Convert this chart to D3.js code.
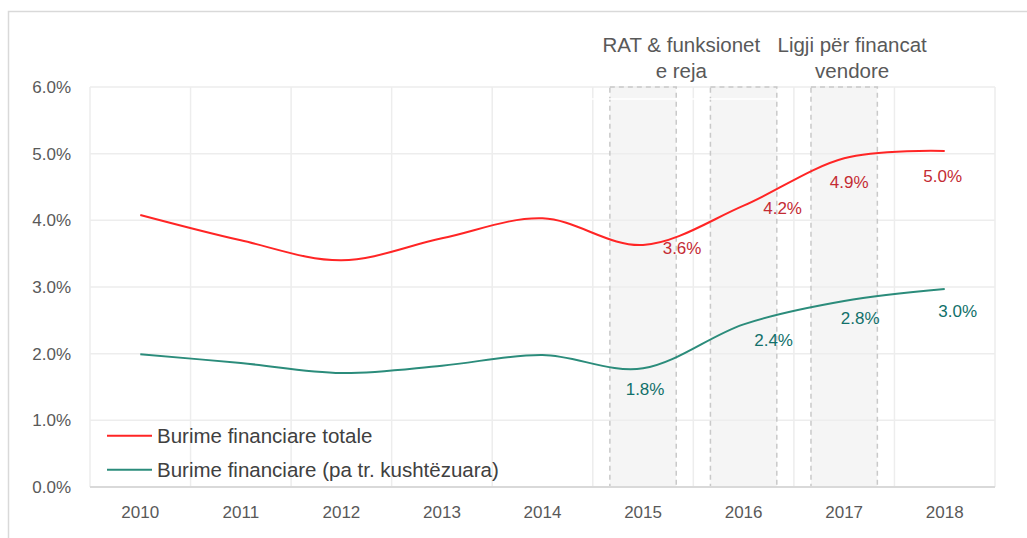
<!DOCTYPE html>
<html>
<head>
<meta charset="utf-8">
<script src="https://cdn.jsdelivr.net/npm/d3@7"></script>
<style>
  body { margin: 0; background: #fff; }
  svg { display: block; font-family: "Liberation Sans", Arial, sans-serif; }
</style>
</head>
<body>
<svg width="1027" height="538"></svg>
<script>
// --- Dados ---
const years = ['2010', '2011', '2012', '2013', '2014', '2015', '2016', '2017', '2018'];
const totale = [4.08, 3.70, 3.40, 3.73, 4.03, 3.63, 4.22, 4.93, 5.04];
const paKusht = [1.99, 1.86, 1.71, 1.82, 1.98, 1.78, 2.44, 2.79, 2.97];
const labelYears = ['2015', '2016', '2017', '2018'];
const reformYears = ['2015', '2016', '2017'];
const reformTop = 6;
const yTicks = [0, 1, 2, 3, 4, 5, 6];
const seriesNames = ['Burime financiare totale', 'Burime financiare (pa tr. kushtëzuara)'];
const annotations = [
    { lines: ['RAT & funksionet', 'e reja'], between: ['2015', '2016'] },
    { lines: ['Ligji për financat', 'vendore'], at: '2017' }
];

// deslocamento dos rótulos (px), só aparência
const labelOffsets = {
    totale: [[39, 3], [39, 3], [5, 24], [-2, 25]],
    paKusht: [[2, 21], [30, 16], [16, 17], [13, 22]]
};

const colors = { totale: '#ff2525', paKusht: '#2b8c7b', totaleLbl: '#c42b33', paKushtLbl: '#11706a' };

const svg = d3.select('svg');
const margens = { left: 90, right: 32, top: 87, bottom: 51 };
const width = +svg.attr('width');
const height = +svg.attr('height');

// moldura externa
svg.append('rect')
    .attr('x', 8.5).attr('y', 11.5)
    .attr('width', 1040).attr('height', 560)
    .attr('fill', 'none').attr('stroke', '#d9d9d9').attr('stroke-width', 1.5);

const x = d3.scaleBand()
    .domain(years)
    .range([margens.left, width - margens.right]);

const y = d3.scaleLinear()
    .domain([0, 6])
    .range([height - margens.bottom, margens.top]);

const cx = d => x(d) + x.bandwidth() / 2;

// --- Caixas das reformas ---
const boxW = x.bandwidth() * 0.66;
svg.append('g')
    .selectAll('rect')
    .data(reformYears)
    .join('rect')
    .attr('x', d => cx(d) - boxW / 2)
    .attr('y', y(reformTop))
    .attr('width', boxW)
    .attr('height', y(0) - y(reformTop))
    .attr('fill', '#f5f5f5');

// --- Grade ---
const grid = svg.append('g');
grid.selectAll('.h')
    .data(yTicks.slice(1))
    .join('line')
    .attr('x1', x.range()[0]).attr('x2', x.range()[1])
    .attr('y1', d => y(d)).attr('y2', d => y(d))
    .attr('stroke', '#ededed').attr('stroke-width', 1.5);

grid.selectAll('.v')
    .data(years.map(d => x(d)).concat([x.range()[1]]))
    .join('line')
    .attr('x1', d => d).attr('x2', d => d)
    .attr('y1', y(6)).attr('y2', y(0))
    .attr('stroke', '#ededed').attr('stroke-width', 1.5);

// bordas tracejadas das caixas
svg.append('g')
    .selectAll('rect')
    .data(reformYears)
    .join('rect')
    .attr('x', d => cx(d) - boxW / 2)
    .attr('y', y(reformTop))
    .attr('width', boxW)
    .attr('height', y(0) - y(reformTop))
    .attr('fill', 'none')
    .attr('stroke', '#c9c9c9')
    .attr('stroke-width', 1.5)
    .attr('stroke-dasharray', '5,4');

// faixa branca sob o rótulo
svg.append('line')
    .attr('x1', cx('2015') - boxW / 2 - 30).attr('x2', cx('2016') + boxW / 2)
    .attr('y1', y(5.82)).attr('y2', y(5.82))
    .attr('stroke', '#fff').attr('stroke-width', 1.5);

// eixo x
svg.append('line')
    .attr('x1', x.range()[0]).attr('x2', x.range()[1])
    .attr('y1', y(0)).attr('y2', y(0))
    .attr('stroke', '#d9d9d9').attr('stroke-width', 2);

// --- Eixos ---
const yAxis = svg.append('g')
    .attr('transform', `translate(${margens.left - 19}, 0)`)
    .call(d3.axisLeft(y).tickValues(yTicks).tickSize(0).tickFormat(d => d3.format('.1f')(d) + '%'));
yAxis.select('.domain').remove();
yAxis.selectAll('text')
    .attr('x', 0)
    .style('font-family', '"Liberation Sans", Arial, sans-serif')
    .style('font-size', '17px')
    .style('fill', '#595959');

const xAxis = svg.append('g')
    .attr('transform', `translate(0, ${y(0)})`)
    .call(d3.axisBottom(x).tickSize(0));
xAxis.select('.domain').remove();
xAxis.selectAll('text')
    .attr('y', 19)
    .style('font-family', '"Liberation Sans", Arial, sans-serif')
    .style('font-size', '17px')
    .style('fill', '#595959');

// --- Linhas ---
const line = d3.line()
    .x((d, i) => cx(years[i]))
    .y(d => y(d))
    .curve(d3.curveCardinal.tension(0));

svg.append('path')
    .datum(totale)
    .attr('d', line)
    .attr('fill', 'none')
    .attr('stroke', colors.totale)
    .attr('stroke-width', 2);

svg.append('path')
    .datum(paKusht)
    .attr('d', line)
    .attr('fill', 'none')
    .attr('stroke', colors.paKusht)
    .attr('stroke-width', 2);

// --- Rótulos de dados ---
function drawLabels(values, offsets, color) {
    svg.append('g')
        .selectAll('text')
        .data(labelYears)
        .join('text')
        .attr('x', (d, i) => cx(d) + offsets[i][0])
        .attr('y', (d, i) => y(values[years.indexOf(d)]) + offsets[i][1])
        .attr('text-anchor', 'middle')
        .attr('dominant-baseline', 'central')
        .style('font-size', '17px')
        .style('fill', color)
        .text(d => d3.format('.1f')(values[years.indexOf(d)]) + '%');
}
drawLabels(totale, labelOffsets.totale, colors.totaleLbl);
drawLabels(paKusht, labelOffsets.paKusht, colors.paKushtLbl);

// --- Anotações ---
annotations.forEach(a => {
    const ax = a.between ? (cx(a.between[0]) + cx(a.between[1])) / 2 - 12 : cx(a.at) + 8;
    const t = svg.append('text')
        .attr('text-anchor', 'middle')
        .style('font-size', '20.5px')
        .style('fill', '#595959');
    a.lines.forEach((l, i) => {
        t.append('tspan').attr('x', ax).attr('y', 52 + i * 26).text(l);
    });
});

// --- Legenda ---
const legend = svg.append('g').attr('transform', `translate(107, ${y(0.77)})`);
[colors.totale, colors.paKusht].forEach((c, i) => {
    const row = legend.append('g').attr('transform', `translate(0, ${i * 34})`);
    row.append('line')
        .attr('x1', 0).attr('x2', 45)
        .attr('stroke', c).attr('stroke-width', 2);
    row.append('text')
        .attr('x', 50)
        .attr('dominant-baseline', 'central')
        .style('font-size', '20.5px')
        .style('fill', '#404040')
        .text(seriesNames[i]);
});
</script>
</body>
</html>
